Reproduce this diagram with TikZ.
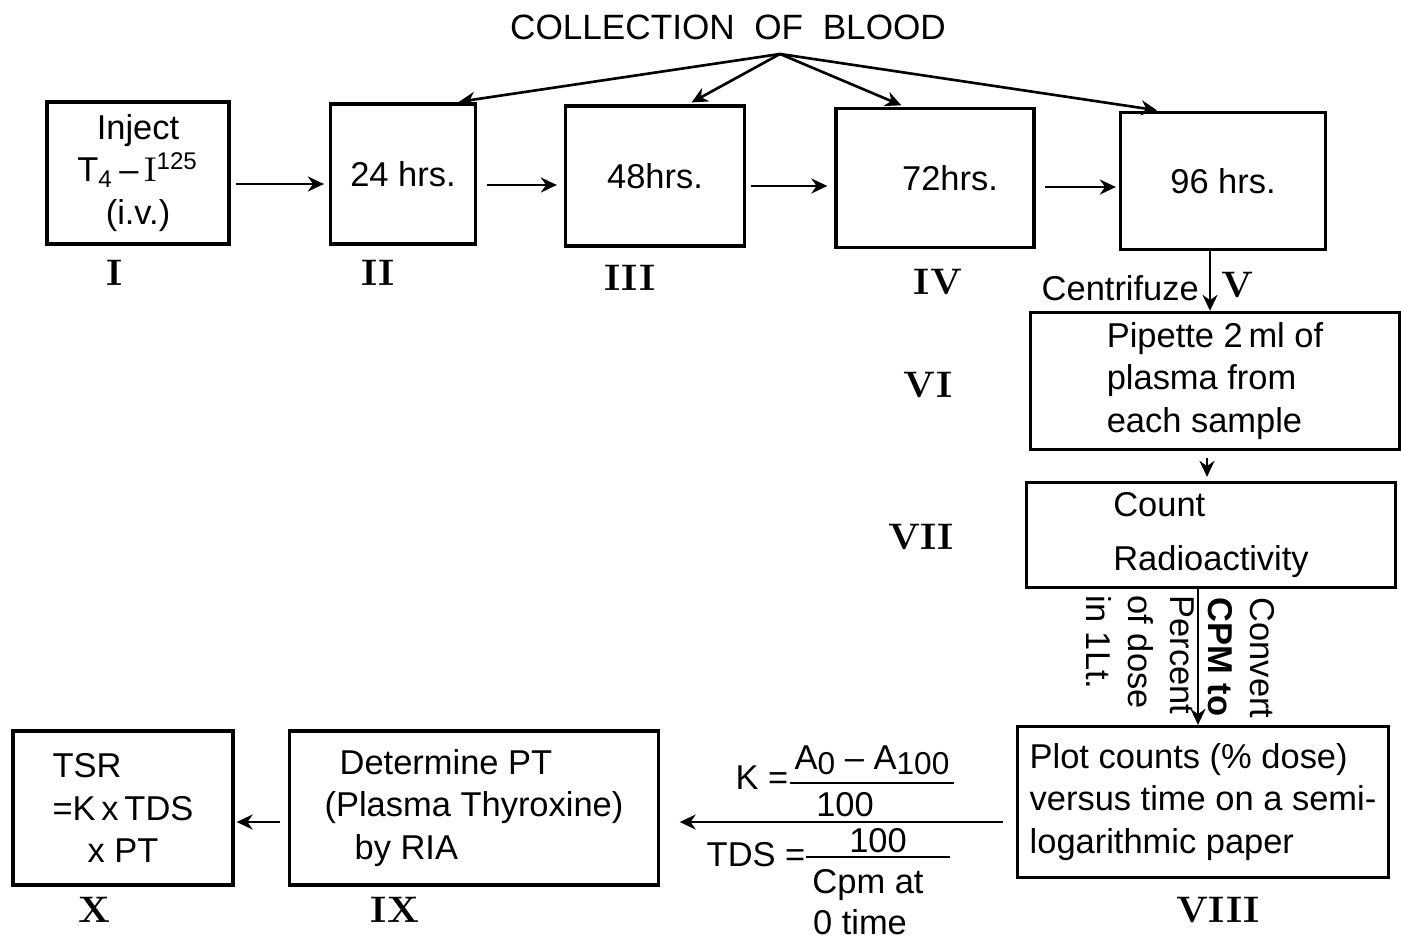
\documentclass[tikz,border=0pt]{standalone}
\usepackage{fontspec}
\newfontfamily\labfont{Liberation Sans}
\usetikzlibrary{arrows.meta}

\begin{document}
\begin{tikzpicture}[x=0.01cm,y=-0.01cm,>=Stealth,
  stage/.style={draw,line width=0.9pt,inner sep=2pt,align=center,
    font=\labfont\fontsize{9.8}{12.2}\selectfont},
  num/.style={inner sep=1pt,font=\bfseries\fontsize{10.5}{12}\selectfont},
  txt/.style={inner sep=1pt,font=\labfont\fontsize{9.8}{12}\selectfont},
  ar/.style={-{Stealth[length=1.6mm,width=1.5mm]},line width=0.75pt},
  bar/.style={line width=0.75pt}]
\useasboundingbox (0,0) rectangle (1401,940);

% top row
\node[txt,font=\labfont\fontsize{10}{12}\selectfont] (tt) at (728,27) {COLLECTION\ \ OF\ \ BLOOD};
\coordinate (cb) at (780,54);
\node[stage,minimum width=1.82cm,minimum height=1.42cm] (s1) at (138,173)
  {Inject\\T\textsubscript{4}\,–\,{\rmfamily I}\textsuperscript{125}\\(i.v.)};
\node[stage,minimum width=1.45cm,minimum height=1.40cm] (s2) at (403,174) {24 hrs.};
\node[stage,minimum width=1.79cm,minimum height=1.40cm] (s3) at (655,176) {48hrs.};
\node[stage,minimum width=1.98cm,minimum height=1.39cm] (s4) at (935,178) {\hspace{0.3cm}72hrs.};
\node[stage,minimum width=2.05cm,minimum height=1.37cm] (s5) at (1223,181) {96 hrs.};
\node[num] (n1) at (115,273) {I};
\node[num] (n2) at (378,273) {II};
\node[num] (n3) at (630,278) {III};
\node[num] (n4) at (938,282) {IV};
\node[num] (n5) at (1238,285) {V};
\draw[ar,shorten <=0.5mm,shorten >=0.5mm] ([yshift=-1.1mm]s1.east) -- ([yshift=-1.1mm]s1.east -| s2.west);
\draw[ar,shorten <=1mm,shorten >=0.7mm] ([yshift=-1.1mm]s2.east) -- ([yshift=-1.1mm]s2.east -| s3.west);
\draw[ar,shorten <=0.5mm,shorten >=0.7mm] ([yshift=-1mm]s3.east) -- ([yshift=-1mm]s3.east -| s4.west);
\draw[ar,shorten <=0.9mm,shorten >=0.3mm] ([yshift=-0.9mm]s4.east) -- ([yshift=-0.9mm]s4.east -| s5.west);
\foreach \b/\d in {s2/5.2,s3/3.3,s4/-3,s5/-6.2}
  \draw[ar,shorten >=0.4mm] (cb) -- ([xshift=\d mm]\b.north);

% right column
\node[stage,align=left,minimum width=3.68cm,minimum height=1.37cm] (s6) at (1215,381)
  {Pipette 2\,ml of\\plasma from\\each sample};
\node[stage,align=left,minimum width=3.68cm,minimum height=1.05cm] (s7) at (1211,535)
  {Count\\[3pt]Radioactivity\hspace{0.4cm}};
\node[stage,align=left,minimum width=3.70cm,minimum height=1.51cm] (s8) at (1203,802)
  {Plot counts (\% dose)\\versus time on a semi-\\logarithmic paper};
\node[num] (n6) at (928,385) {VI};
\node[num] (n7) at (921,537) {VII};
\node[num] (n8) at (1218,910) {VIII};
\node[txt,anchor=east] (cf) at (1203,288) {Centrifuze};
\coordinate (c5) at (1210,0);
\coordinate (c6) at (1207,0);
\coordinate (c7) at (1198,0);
\draw[ar] (s5.south -| c5) -- (s6.north -| c5);
\draw[ar,shorten <=0.7mm,shorten >=0.4mm] (s6.south -| c6) -- (s7.north -| c6);
\draw[ar] (s7.south -| c7) -- (s8.north -| c7);
\node[txt,rotate=-90,align=left] (cv) at (1241,658) {Convert\\\textbf{CPM to}};
\node[txt,rotate=-90,align=left] (pc) at (1140,655) {Percent\\of dose\\in 1Lt.};

% bottom row
\node[stage,align=left,minimum width=3.68cm,minimum height=1.54cm] (s9) at (474,808)
  {\hspace{0.15cm}Determine PT\\(Plasma Thyroxine)\\\hspace{0.3cm}by RIA};
\node[stage,align=left,minimum width=2.20cm,minimum height=1.54cm] (s10) at (123,808)
  {TSR\\=K\,x\,TDS\\\hspace{0.35cm}x PT\hspace{0.3cm}};
\node[num] (n9) at (395,910) {IX};
\node[num] (n10) at (95,910) {X};
\coordinate (c8) at (0,822);
\draw[ar,shorten <=1.3mm,shorten >=2mm] (s8.west |- c8) -- (s9.east |- c8);
\draw[ar,shorten <=0.8mm,shorten >=0.2mm] (s9.west |- c8) -- (s10.east |- c8);

% formulas on the arrow
\node[txt] (kk) at (762,778) {K =};
\node[txt,anchor=south,minimum width=1.4cm,inner ysep=2pt] (ka) at (872,783)
  {A\raisebox{-0.3ex}{\small 0} – A\raisebox{-0.3ex}{\small 100}};
\draw[bar] (ka.south west) -- (ka.south east);
\node[txt] (kd) at (845,805) {100};
\node[txt] (td) at (756,855) {TDS =};
\node[txt,anchor=south,minimum width=1.43cm,inner ysep=1pt] (tn) at (878,857) {100};
\draw[bar] (tn.south west) -- (tn.south east);
\node[txt] (tc) at (868,885) {Cpm at};
\node[txt] (tz) at (860,922) {0 time};
\end{tikzpicture}
\end{document}
